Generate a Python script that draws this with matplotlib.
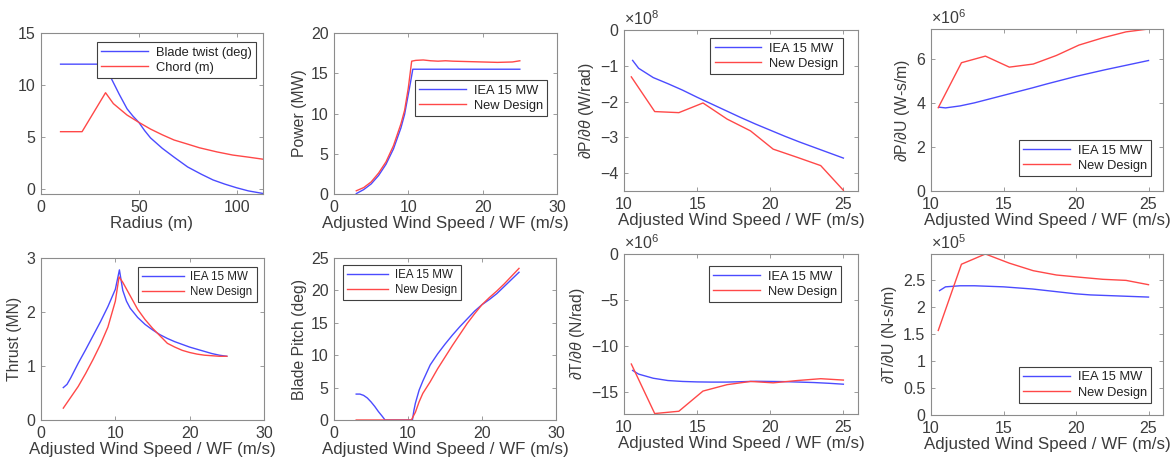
import numpy as np
import matplotlib
matplotlib.use('Agg')
import matplotlib.pyplot as plt

plt.rcParams['font.family'] = ['Liberation Sans', 'DejaVu Sans']
plt.rcParams['mathtext.fontset'] = 'custom'
plt.rcParams['mathtext.rm'] = 'Liberation Sans'
plt.rcParams['mathtext.it'] = 'Liberation Sans:italic'

# ---- blade geometry
radius_twist = [10, 30, 32, 36, 40, 44, 47, 50, 53, 56, 62, 68, 75, 82, 88, 94, 100, 106, 113.5]
twist = [12, 12, 11.8, 10.6, 9.1, 7.7, 7.0, 6.4, 5.6, 4.9, 3.9, 3.05, 2.1, 1.4, 0.85, 0.45, 0.1, -0.2, -0.45]
radius_chord = [10, 21, 33, 37, 44, 50, 56, 62, 68, 75, 81, 90, 98, 106, 113.5]
chord = [5.5, 5.5, 9.25, 8.2, 7.1, 6.4, 5.75, 5.2, 4.7, 4.3, 3.95, 3.55, 3.25, 3.05, 2.85]

# ---- power
ws_power_iea = [3, 4, 5, 6, 7, 8, 9, 9.5, 10, 10.3, 10.6, 12, 15, 20, 25]
power_iea = [0.05, 0.55, 1.25, 2.3, 3.7, 5.6, 8.2, 9.9, 12.4, 13.9, 15.5, 15.5, 15.5, 15.5, 15.5]
ws_power_new = [3, 4, 5, 6, 7, 8, 9, 9.5, 10, 10.45, 11, 12, 13, 14, 15, 16, 18, 20, 22, 24, 25]
power_new = [0.4, 0.8, 1.5, 2.6, 4.0, 6.0, 8.7, 10.4, 13.2, 16.5, 16.6, 16.65, 16.55, 16.5,
             16.55, 16.5, 16.45, 16.4, 16.35, 16.4, 16.55]

# ---- thrust
ws_thrust_iea = [3, 3.5, 4, 5, 6, 7, 8, 9, 10, 10.55, 11, 11.5, 12, 13, 14, 15, 16, 17,
                 18, 19, 20, 21, 22, 23, 24, 25]
thrust_iea = [0.6, 0.66, 0.78, 1.05, 1.3, 1.56, 1.82, 2.1, 2.42, 2.78, 2.4, 2.2, 2.07, 1.9,
              1.77, 1.67, 1.58, 1.51, 1.45, 1.4, 1.35, 1.31, 1.27, 1.23, 1.2, 1.18]
ws_thrust_new = [3, 4, 5, 6, 7, 8, 9, 10, 10.5, 11, 12, 13, 14, 15, 16, 17, 18, 19, 20,
                 21, 22, 23, 24, 25]
thrust_new = [0.22, 0.42, 0.62, 0.86, 1.12, 1.4, 1.72, 2.2, 2.65, 2.55, 2.3, 2.05, 1.86,
              1.7, 1.56, 1.42, 1.35, 1.29, 1.25, 1.22, 1.2, 1.19, 1.18, 1.18]

# ---- blade pitch
ws_pitch_iea = [3, 3.5, 4, 4.5, 5, 5.5, 6, 6.5, 6.9, 8, 9, 10, 10.6, 10.8, 11, 11.5, 12,
                13, 14, 15, 16, 17, 18, 19, 20, 21, 22, 23, 24, 25]
pitch_iea = [4.0, 4.0, 3.8, 3.4, 2.8, 2.1, 1.3, 0.6, 0, 0, 0, 0, 0, 1.5, 2.6, 4.6, 6.0,
             8.5, 10.2, 11.7, 13.1, 14.4, 15.6, 16.8, 17.8, 18.6, 19.5, 20.6, 21.7, 22.8]
ws_pitch_new = [3, 10.45, 11, 11.5, 12, 13, 14, 15, 16, 17, 18, 19, 20, 21, 22, 23, 24, 25]
pitch_new = [0, 0, 1.2, 2.8, 4.1, 5.9, 7.9, 9.7, 11.5, 13.2, 14.9, 16.4, 17.8, 18.9,
             19.9, 21.0, 22.2, 23.4]

# ---- sensitivities above rated
ws_sens_iea = [10.59, 11, 12, 13, 14, 15, 16, 17, 18, 19, 20, 21, 22, 23, 24, 25]
ws_sens_new = [10.5, 12.1, 13.75, 15.4, 17.05, 18.65, 20.2, 21.85, 23.45, 25.0]

dp_dtheta_iea = [-0.85, -1.07, -1.33, -1.5, -1.68, -1.88, -2.07, -2.26, -2.45, -2.63,
                 -2.8, -2.97, -3.13, -3.28, -3.43, -3.58]   # x1e8 W/rad
dp_dtheta_new = [-1.31, -2.28, -2.31, -2.04, -2.49, -2.82, -3.33, -3.56, -3.79, -4.48]

dp_du_iea = [3.8, 3.77, 3.86, 4.0, 4.17, 4.34, 4.51, 4.68, 4.86, 5.03, 5.2, 5.35, 5.5,
             5.64, 5.78, 5.92]   # x1e6 W-s/m
dp_du_new = [3.78, 5.82, 6.12, 5.62, 5.76, 6.15, 6.62, 6.95, 7.22, 7.35]

dt_dtheta_iea = [-12.7, -13.1, -13.55, -13.8, -13.9, -13.95, -13.97, -13.97, -13.93,
                 -13.88, -13.9, -13.92, -13.97, -14.02, -14.1, -14.2]   # x1e6 N/rad
dt_dtheta_new = [-12.0, -17.4, -17.15, -14.95, -14.25, -13.9, -14.05, -13.8, -13.6, -13.75]

dt_du_iea = [2.31, 2.38, 2.4, 2.4, 2.39, 2.38, 2.36, 2.34, 2.31, 2.28, 2.25, 2.23, 2.22,
             2.21, 2.2, 2.19]   # x1e5 N-s/m
dt_du_new = [1.57, 2.8, 2.99, 2.82, 2.68, 2.6, 2.56, 2.52, 2.5, 2.42]

BLUE = '#4b4bff'
RED = '#ff4848'
GRAY = '#8c8c8c'
TXT = '#3c3c3c'
W, H = 1172, 459
xlab = 'Adjusted Wind Speed / WF (m/s)'

fig = plt.figure(figsize=(W / 100, H / 100), dpi=100)


def add_axes(x0, x1, y0, y1):
    ax = fig.add_axes([x0 / W, 1 - y1 / H, (x1 - x0) / W, (y1 - y0) / H])
    for s in ax.spines.values():
        s.set_color(GRAY)
        s.set_linewidth(0.8)
    ax.tick_params(direction='in', top=True, right=True, length=3, width=0.6,
                   color=GRAY, labelcolor=TXT, labelsize=11.5, pad=4)
    return ax


def style(ax, xl, yl, xlim, ylim, xt, yt, ytl=None):
    ax.set_xlim(xlim)
    ax.set_ylim(ylim)
    ax.set_xticks(xt)
    ax.set_yticks(yt)
    if ytl is not None:
        ax.set_yticklabels(ytl)
    ax.set_xlabel(xl, fontsize=12.2, color=TXT, labelpad=1)
    ax.set_ylabel(yl, fontsize=11.3, color=TXT, labelpad=3)


def legend(ax, labels, fx, fy, fs=9.3):
    leg = ax.legend(labels, loc='upper left', bbox_to_anchor=(fx, fy), borderaxespad=0,
                    fontsize=fs, fancybox=False, framealpha=1, handlelength=3.6,
                    handletextpad=0.6, borderpad=0.35, labelspacing=0.25)
    leg.get_frame().set_edgecolor('#404040')
    leg.get_frame().set_linewidth(0.8)
    for t in leg.get_texts():
        t.set_color('#222222')


def offset(ax, exp):
    ax.text(0, 1.01, r'$\times10^{%d}$' % exp, transform=ax.transAxes, ha='left',
            va='bottom', fontsize=11.5, color=TXT)


lw = 1.0

# row 1
ax = add_axes(41, 263, 33, 194)
ax.plot(radius_twist, twist, color=BLUE, lw=lw)
ax.plot(radius_chord, chord, color=RED, lw=lw)
style(ax, 'Radius (m)', '', (0, 113.5), (-0.5, 15), [0, 50, 100], [0, 5, 10, 15])
legend(ax, ['Blade twist (deg)', 'Chord (m)'], 0.252, 0.944)

ax = add_axes(334, 557, 33, 194)
ax.plot(ws_power_iea, power_iea, color=BLUE, lw=lw)
ax.plot(ws_power_new, power_new, color=RED, lw=lw)
style(ax, xlab, 'Power (MW)', (0, 30), (0, 20), [0, 10, 20, 30], [0, 5, 10, 15, 20])
legend(ax, ['IEA 15 MW', 'New Design'], 0.363, 0.708)

ax = add_axes(624, 858, 30, 191)
ax.plot(ws_sens_iea, dp_dtheta_iea, color=BLUE, lw=lw)
ax.plot(ws_sens_new, dp_dtheta_new, color=RED, lw=lw)
style(ax, xlab, r'$\partial$P/$\partial\theta$ (W/rad)', (10, 26), (-4.5, 0),
      [10, 15, 20, 25], [-4, -3, -2, -1, 0])
offset(ax, 8)
legend(ax, ['IEA 15 MW', 'New Design'], 0.368, 0.95)

ax = add_axes(931, 1163, 29, 191)
ax.plot(ws_sens_iea, dp_du_iea, color=BLUE, lw=lw)
ax.plot(ws_sens_new, dp_du_new, color=RED, lw=lw)
style(ax, xlab, r'$\partial$P/$\partial$U (W-s/m)', (10, 26), (0, 7.35),
      [10, 15, 20, 25], [0, 2, 4, 6])
offset(ax, 6)
legend(ax, ['IEA 15 MW', 'New Design'], 0.379, 0.315)

# row 2
ax = add_axes(41, 264, 258, 420)
ax.plot(ws_thrust_iea, thrust_iea, color=BLUE, lw=lw)
ax.plot(ws_thrust_new, thrust_new, color=RED, lw=lw)
style(ax, xlab, 'Thrust (MN)', (0, 30), (0, 3), [0, 10, 20, 30], [0, 1, 2, 3])
legend(ax, ['IEA 15 MW', 'New Design'], 0.435, 0.944, fs=8.3)

ax = add_axes(334, 556, 258, 420)
ax.plot(ws_pitch_iea, pitch_iea, color=BLUE, lw=lw)
ax.plot(ws_pitch_new, pitch_new, color=RED, lw=lw)
style(ax, xlab, 'Blade Pitch (deg)', (0, 30), (0, 25), [0, 10, 20, 30],
      [0, 5, 10, 15, 20, 25])
legend(ax, ['IEA 15 MW', 'New Design'], 0.04, 0.957, fs=8.3)

ax = add_axes(624, 858, 254, 414)
ax.plot(ws_sens_iea, dt_dtheta_iea, color=BLUE, lw=lw)
ax.plot(ws_sens_new, dt_dtheta_new, color=RED, lw=lw)
style(ax, xlab, r'$\partial$T/$\partial\theta$ (N/rad)', (10, 26), (-17.45, 0),
      [10, 15, 20, 25], [-15, -10, -5, 0])
offset(ax, 6)
legend(ax, ['IEA 15 MW', 'New Design'], 0.363, 0.925)

ax = add_axes(931, 1163, 254, 415)
ax.plot(ws_sens_iea, dt_du_iea, color=BLUE, lw=lw)
ax.plot(ws_sens_new, dt_du_new, color=RED, lw=lw)
style(ax, xlab, r'$\partial$T/$\partial$U (N-s/m)', (10, 26), (0, 2.99),
      [10, 15, 20, 25], [0, 0.5, 1, 1.5, 2, 2.5], ['0', '0.5', '1', '1.5', '2', '2.5'])
offset(ax, 5)
legend(ax, ['IEA 15 MW', 'New Design'], 0.379, 0.3)

fig.savefig('out.png', dpi=100)
